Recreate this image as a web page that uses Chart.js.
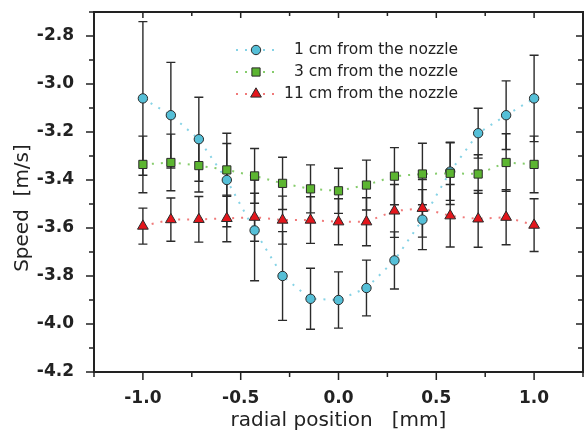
<!DOCTYPE html>
<html>
<head>
<meta charset="utf-8">
<script src="https://cdn.jsdelivr.net/npm/chart.js@4.4.1/dist/chart.umd.min.js"></script>
<style>
  html, body { margin: 0; padding: 0; background: #fff; }
  canvas { display: block; }
</style>
</head>
<body>
<canvas id="speedChart" width="587" height="435"></canvas>
<script>
// radial positions (mm), 15 points from -1 to 1
const positions = [-1, -0.857, -0.714, -0.571, -0.429, -0.286, -0.143, 0, 0.143, 0.286, 0.429, 0.571, 0.714, 0.857, 1];

// speed at 1 cm from the nozzle
const speed1cm = [-3.06, -3.13, -3.23, -3.40, -3.61, -3.80, -3.895, -3.90, -3.85, -3.735, -3.565, -3.365, -3.205, -3.13, -3.06];
const err1cm = [0.32, 0.22, 0.175, 0.195, 0.21, 0.185, 0.127, 0.117, 0.116, 0.119, 0.125, 0.12, 0.104, 0.143, 0.18];

// speed at 3 cm from the nozzle
const speed3cm = [-3.335, -3.327, -3.34, -3.358, -3.383, -3.414, -3.437, -3.445, -3.421, -3.384, -3.375, -3.372, -3.375, -3.327, -3.335];
const err3cm = [0.118, 0.118, 0.11, 0.11, 0.114, 0.109, 0.1, 0.094, 0.104, 0.119, 0.128, 0.13, 0.08, 0.12, 0.118];

// speed at 11 cm from the nozzle
const speed11cm = [-3.592, -3.565, -3.564, -3.56, -3.555, -3.567, -3.567, -3.574, -3.574, -3.529, -3.518, -3.549, -3.562, -3.555, -3.588];
const err11cm = [0.075, 0.09, 0.095, 0.097, 0.1, 0.1, 0.097, 0.096, 0.1, 0.11, 0.12, 0.13, 0.118, 0.115, 0.11];

const seriesLabels = ['1 cm from the nozzle', '3 cm from the nozzle', '11 cm from the nozzle'];
const xTitle = 'radial position   [mm]';
const yTitle = 'Speed  [m/s]';

const INK = '#222';
const TICK_FONT = { family: 'DejaVu Sans', size: 17, weight: 'bold' };

function toPoints(ys) {
    return positions.map((x, i) => ({ x: x, y: ys[i] }));
}

function makeSet(label, ys, errs, style, fill, line, radius, order) {
    return {
        label: label,
        data: toPoints(ys),
        errors: errs,
        showLine: true,
        borderColor: line,
        borderWidth: 2,
        borderDash: [2, 7],
        borderCapStyle: 'butt',
        tension: 0,
        pointStyle: style,
        pointRadius: radius,
        pointBackgroundColor: fill,
        pointBorderColor: '#2a2a2a',
        pointBorderWidth: 1,
        order: order
    };
}

const datasets = [
    makeSet(seriesLabels[0], speed1cm, err1cm, 'circle', '#55bfd7', '#86d3e6', 4.7, 3),
    makeSet(seriesLabels[1], speed3cm, err3cm, 'rect', '#5cb531', '#86cc6c', 5.8, 2),
    makeSet(seriesLabels[2], speed11cm, err11cm, 'triangle', '#e3161c', '#f07a7a', 6.2, 1)
];

function isMajor(v, step) {
    return Math.abs(Math.round(v / step)) % 2 === 0;
}

function fmt(v) {
    return (Math.round(v * 10) / 10 || 0).toFixed(1);
}

// vertical error bars with caps, under the markers
const errorBars = {
    id: 'errorBars',
    beforeDatasetsDraw(chart) {
        const { ctx, scales: { x, y } } = chart;
        ctx.save();
        ctx.strokeStyle = '#2b2b2b';
        ctx.lineWidth = 1.4;
        chart.data.datasets.forEach(ds => {
            ds.data.forEach((p, i) => {
                const e = ds.errors[i];
                const px = x.getPixelForValue(p.x);
                const y1 = y.getPixelForValue(p.y + e);
                const y2 = y.getPixelForValue(p.y - e);
                ctx.beginPath();
                ctx.moveTo(px, y1); ctx.lineTo(px, y2);
                ctx.moveTo(px - 4.5, y1); ctx.lineTo(px + 4.5, y1);
                ctx.moveTo(px - 4.5, y2); ctx.lineTo(px + 4.5, y2);
                ctx.stroke();
            });
        });
        ctx.restore();
    }
};

// frame, tick marks, axis titles and legend box
const decorations = {
    id: 'decorations',
    afterDraw(chart) {
        const { ctx, chartArea: a, scales: { x, y } } = chart;
        ctx.save();
        ctx.strokeStyle = INK;
        ctx.lineWidth = 1.5;
        ctx.beginPath();
        x.ticks.forEach(t => {
            const px = x.getPixelForValue(t.value);
            const major = isMajor(t.value, 0.25);
            ctx.moveTo(px, a.bottom); ctx.lineTo(px, a.bottom + (major ? 8 : 5));
            ctx.moveTo(px, a.top); ctx.lineTo(px, a.top + (major ? 6 : 4));
        });
        y.ticks.forEach(t => {
            const py = y.getPixelForValue(t.value);
            const major = isMajor(t.value, 0.1);
            ctx.moveTo(a.left, py); ctx.lineTo(a.left - (major ? 8 : 5), py);
            ctx.moveTo(a.right, py); ctx.lineTo(a.right - (major ? 7 : 5), py);
        });
        ctx.stroke();

        ctx.lineWidth = 2;
        ctx.strokeRect(a.left, a.top, a.right - a.left, a.bottom - a.top);

        // axis titles
        ctx.fillStyle = INK;
        ctx.font = '20px "DejaVu Sans"';
        ctx.textAlign = 'center';
        ctx.textBaseline = 'middle';
        ctx.fillText(xTitle, (a.left + a.right) / 2, 421);
        ctx.translate(23, 208);
        ctx.rotate(-Math.PI / 2);
        ctx.fillText(yTitle, 0, 0);
        ctx.setTransform(1, 0, 0, 1, 0, 0);

        // legend
        const rows = [50, 72, 94];
        chart.data.datasets.forEach((ds, i) => {
            const ry = rows[i];
            ctx.strokeStyle = ds.borderColor;
            ctx.lineWidth = 2;
            ctx.setLineDash([2, 7]);
            ctx.beginPath();
            ctx.moveTo(236, ry); ctx.lineTo(278, ry);
            ctx.stroke();
            ctx.setLineDash([]);
            ctx.fillStyle = ds.pointBackgroundColor;
            ctx.strokeStyle = ds.pointBorderColor;
            ctx.lineWidth = 1;
            Chart.helpers.drawPoint(ctx, { pointStyle: ds.pointStyle, radius: ds.pointRadius, borderWidth: 1, rotation: 0 }, 256, ry);
            ctx.fillStyle = INK;
            ctx.font = '15.5px "DejaVu Sans"';
            ctx.textAlign = 'right';
            ctx.textBaseline = 'middle';
            ctx.fillText(ds.label, 458, ry);
        });
        ctx.restore();
    }
};

new Chart(document.getElementById('speedChart'), {
    type: 'scatter',
    data: { datasets: datasets },
    options: {
        responsive: false,
        animation: false,
        layout: { autoPadding: false, padding: { top: 12, right: 4, left: 0, bottom: 0 } },
        plugins: { legend: { display: false }, tooltip: { enabled: false } },
        scales: {
            x: {
                type: 'linear',
                min: -1.25,
                max: 1.25,
                grid: { display: false },
                border: { display: false },
                ticks: {
                    stepSize: 0.25,
                    autoSkip: false,
                    maxRotation: 0,
                    padding: 8,
                    color: INK,
                    font: TICK_FONT,
                    callback: v => isMajor(v, 0.25) ? fmt(v) : ''
                },
                afterFit: s => {
                    s.height = 63;
                    s.paddingLeft = 0;
                    s.paddingRight = 0;
                }
            },
            y: {
                type: 'linear',
                min: -4.2,
                max: -2.7,
                grid: { display: false },
                border: { display: false },
                ticks: {
                    stepSize: 0.1,
                    autoSkip: false,
                    padding: 12,
                    color: INK,
                    font: TICK_FONT,
                    callback: v => isMajor(v, 0.1) ? fmt(v) : ''
                },
                afterFit: s => {
                    s.width = 94;
                    s.paddingTop = 0;
                    s.paddingBottom = 0;
                }
            }
        }
    },
    plugins: [errorBars, decorations]
});
</script>
</body>
</html>
